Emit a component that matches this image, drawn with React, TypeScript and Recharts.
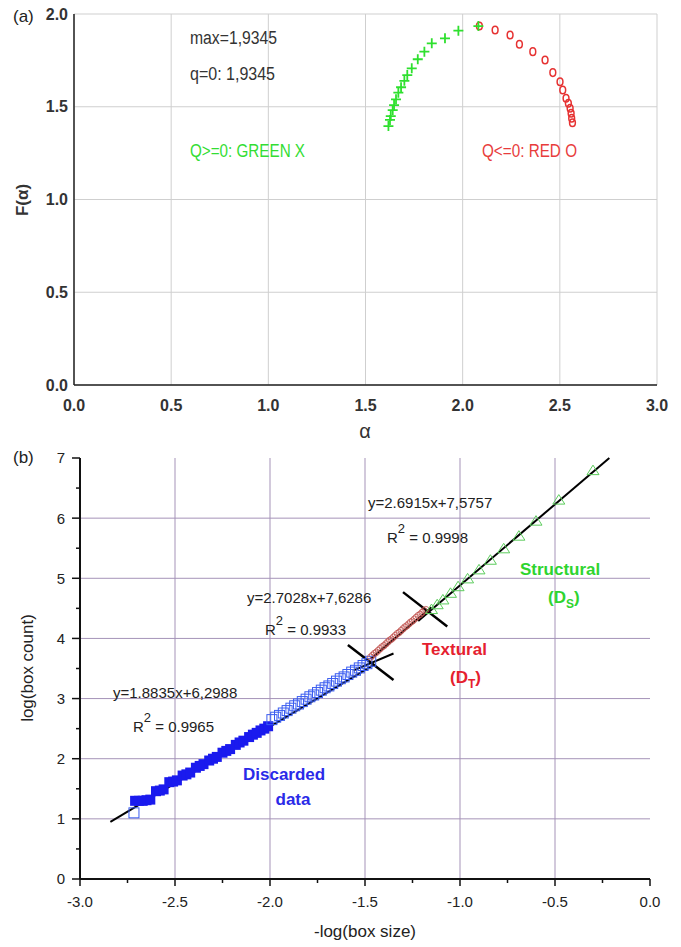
import React from 'react';
import {
  ScatterChart, Scatter, XAxis, YAxis, CartesianGrid, ReferenceLine,
} from 'recharts';

// ---- panel (a): f(alpha) spectrum ----
const greenAlpha = [1.618, 1.626, 1.630, 1.640, 1.647, 1.657, 1.669, 1.683, 1.700, 1.715, 1.738, 1.769, 1.803, 1.841, 1.909, 1.978, 2.081];
const greenF = [1.396, 1.429, 1.450, 1.482, 1.509, 1.540, 1.576, 1.605, 1.640, 1.671, 1.707, 1.756, 1.797, 1.842, 1.869, 1.910, 1.935];
const redAlpha = [2.086, 2.167, 2.244, 2.292, 2.361, 2.424, 2.464, 2.501, 2.515, 2.532, 2.544, 2.553, 2.558, 2.561, 2.565];
const redF = [1.935, 1.914, 1.887, 1.837, 1.797, 1.752, 1.684, 1.635, 1.590, 1.546, 1.519, 1.492, 1.465, 1.438, 1.414];
const alphaTicks = [0, 0.5, 1, 1.5, 2, 2.5, 3];
const fTicks = [0, 0.5, 1, 1.5, 2];

// ---- panel (b): box counting ----
const discardedOpenLoneX = [-2.716];
const discardedOpenLoneY = [1.10];
const discardedFilledX = [-2.71, -2.69, -2.67, -2.65, -2.63, -2.60, -2.58, -2.56, -2.53, -2.51, -2.49, -2.46, -2.44, -2.42, -2.39, -2.37, -2.35, -2.32, -2.30, -2.28, -2.25, -2.23, -2.21, -2.18, -2.16, -2.14, -2.11, -2.09, -2.07, -2.05, -2.03, -2.01];
const discardedFilledY = [1.30, 1.30, 1.30, 1.31, 1.32, 1.46, 1.47, 1.49, 1.61, 1.62, 1.64, 1.72, 1.74, 1.77, 1.85, 1.88, 1.91, 1.97, 2.00, 2.03, 2.10, 2.13, 2.16, 2.23, 2.27, 2.30, 2.36, 2.40, 2.43, 2.47, 2.50, 2.54];
const discardedOpenX = [-1.99, -1.97, -1.95, -1.93, -1.91, -1.89, -1.87, -1.85, -1.83, -1.81, -1.79, -1.77, -1.75, -1.73, -1.71, -1.69, -1.67, -1.65, -1.63, -1.61, -1.59, -1.57, -1.55, -1.53, -1.51, -1.49, -1.47];
const discardedOpenY = [2.65, 2.69, 2.72, 2.76, 2.80, 2.84, 2.88, 2.91, 2.95, 2.99, 3.03, 3.06, 3.10, 3.14, 3.18, 3.21, 3.25, 3.29, 3.33, 3.36, 3.40, 3.44, 3.47, 3.51, 3.55, 3.58, 3.62];
const texturalX = [-1.47, -1.46, -1.45, -1.44, -1.43, -1.42, -1.41, -1.40, -1.39, -1.38, -1.37, -1.36, -1.35, -1.34, -1.33, -1.32, -1.31, -1.30, -1.29, -1.28, -1.27, -1.26, -1.25, -1.24, -1.23, -1.22, -1.21, -1.20, -1.19, -1.18];
const texturalY = [3.69, 3.72, 3.75, 3.77, 3.80, 3.83, 3.86, 3.88, 3.91, 3.94, 3.97, 3.99, 4.02, 4.05, 4.08, 4.10, 4.13, 4.16, 4.19, 4.21, 4.24, 4.27, 4.29, 4.32, 4.35, 4.38, 4.40, 4.43, 4.46, 4.48];
const structuralX = [-0.30, -0.48, -0.60, -0.69, -0.77, -0.84, -0.90, -0.96, -1.01, -1.05, -1.09, -1.12, -1.15];
const structuralY = [6.79, 6.30, 5.95, 5.70, 5.49, 5.30, 5.14, 4.99, 4.86, 4.75, 4.64, 4.56, 4.48];
const boxSizeTicks = [-3, -2.75, -2.5, -2.25, -2, -1.75, -1.5, -1.25, -1, -0.75, -0.5, -0.25, 0];
const boxCountTicks = [0, 0.5, 1, 1.5, 2, 2.5, 3, 3.5, 4, 4.5, 5, 5.5, 6, 6.5, 7];

// fit lines & separators [x1, y1, x2, y2]
const fitDiscarded = [-2.84, 0.95, -1.45, 3.57];
const fitTextural = [-1.47, 3.66, -1.15, 4.52];
const fitStructural = [-1.22, 4.29, -0.214, 7.0];
const crossA = [-1.59, 3.89, -1.35, 3.31];
const crossA2 = [-1.56, 3.47, -1.35, 3.75];
const crossB = [-1.30, 4.77, -1.067, 4.20];

const zip = (xs: number[], ys: number[]) => xs.map((x, i) => ({ x, y: ys[i] }));
const seg = (s: number[]) => [{ x: s[0], y: s[1] }, { x: s[2], y: s[3] }];

const NARROW = "'Liberation Sans Narrow', 'Arial Narrow', 'Liberation Sans', sans-serif";
const SANS = "'Liberation Sans', Arial, sans-serif";

const PlusMark = (p: any) => (
  <path d={`M${p.cx - 5},${p.cy}H${p.cx + 5}M${p.cx},${p.cy - 5}V${p.cy + 5}`} stroke="#2ee02e" strokeWidth={1.8} fill="none" />
);
const RingMark = (p: any) => (
  <ellipse cx={p.cx} cy={p.cy} rx={2.9} ry={3.8} stroke="#e63232" strokeWidth={1.5} fill="none" />
);
const FilledSquare = (p: any) => <rect x={p.cx - 5} y={p.cy - 5} width={10} height={10} fill="#1a1aee" />;
const OpenSquare = (p: any) => (
  <rect x={p.cx - 5} y={p.cy - 5} width={10} height={10} fill="none" stroke="#3a5cf0" strokeWidth={1} />
);
const SmallRing = (p: any) => <circle cx={p.cx} cy={p.cy} r={3.2} fill="none" stroke="#c0504d" strokeWidth={0.8} />;
const OpenTriangle = (p: any) => (
  <path d={`M${p.cx},${p.cy - 5.5}L${p.cx + 6},${p.cy + 4}L${p.cx - 6},${p.cy + 4}Z`} fill="none" stroke="#5ccc5c" strokeWidth={1} />
);

const isMajor = (v: number, step: number) => Math.abs(v / step - Math.round(v / step)) < 1e-6;

const BoxSizeTick = (p: any) => {
  const v = p.payload.value;
  const major = isMajor(v, 0.5);
  return (
    <g>
      <line x1={p.x} x2={p.x} y1={p.y} y2={p.y + (major ? 7 : 4)} stroke="#111" strokeWidth={1.5} />
      {major && (
        <text x={p.x} y={p.y + 28} textAnchor="middle" fontFamily={SANS} fontSize={15} fill="#222">{v.toFixed(1)}</text>
      )}
    </g>
  );
};

const BoxCountTick = (p: any) => {
  const v = p.payload.value;
  const major = isMajor(v, 1);
  return (
    <g>
      <line x1={p.x} x2={p.x - (major ? 8 : 4)} y1={p.y} y2={p.y} stroke="#111" strokeWidth={1.5} />
      {major && (
        <text x={p.x - 15} y={p.y} dy="0.36em" textAnchor="end" fontFamily={SANS} fontSize={15} fill="#222">{v}</text>
      )}
    </g>
  );
};

const aTick = { fontFamily: NARROW, fontSize: 16, fontWeight: 'bold', fill: '#333' };

const R2 = ({ x, y, v }: { x: number; y: number; v: string }) => (
  <text x={x} y={y} fontFamily={SANS} fontSize={15} fill="#222">
    R<tspan dy={-10} fontSize={13}>2</tspan><tspan dy={10}>{` = ${v}`}</tspan>
  </text>
);

export default function App() {
  return (
    <div style={{ position: 'absolute', left: 0, top: 0, width: 681, height: 947, background: '#fff' }}>
      <div style={{ position: 'absolute', left: 0, top: 0 }}>
        <ScatterChart width={681} height={440} margin={{ top: 14, right: 24, bottom: 25, left: 0 }}>
          <CartesianGrid stroke="#cfcfcf" />
          <XAxis type="number" dataKey="x" domain={[0, 3]} ticks={alphaTicks} tickLine={false}
            tickMargin={9} height={30} tick={aTick} tickFormatter={(v: number) => v.toFixed(1)}
            axisLine={{ stroke: '#222', strokeWidth: 1.5 }} />
          <XAxis xAxisId="frame" orientation="top" type="number" domain={[0, 3]} height={0}
            tick={false} tickLine={false} axisLine={{ stroke: '#222', strokeWidth: 2 }} />
          <YAxis type="number" dataKey="y" domain={[0, 2]} ticks={fTicks} tickLine={false}
            tickMargin={0} width={74} tick={aTick} tickFormatter={(v: number) => v.toFixed(1)}
            axisLine={{ stroke: '#222', strokeWidth: 1.5 }} />
          <YAxis yAxisId="frame" orientation="right" type="number" domain={[0, 2]} width={0}
            tick={false} tickLine={false} axisLine={{ stroke: '#222', strokeWidth: 2 }} />
          <Scatter data={zip(redAlpha, redF)} shape={RingMark} isAnimationActive={false} />
          <Scatter data={zip(greenAlpha, greenF)} shape={PlusMark} isAnimationActive={false} />
        </ScatterChart>
      </div>

      <div style={{ position: 'absolute', left: 0, top: 440 }}>
        <ScatterChart width={681} height={507} margin={{ top: 18, right: 31, bottom: 38, left: 0 }}>
          <CartesianGrid stroke="#a593b8" verticalValues={[-2.5, -2, -1.5, -1, -0.5]}
            horizontalValues={[1, 2, 3, 4, 5, 6]} />
          <XAxis type="number" dataKey="x" domain={[-3, 0]} ticks={boxSizeTicks} tickLine={false}
            tickSize={0} tickMargin={0} height={30} tick={<BoxSizeTick />} interval={0}
            axisLine={{ stroke: '#111', strokeWidth: 2 }} />
          <XAxis xAxisId="frame" orientation="top" type="number" domain={[-3, 0]} height={0}
            tick={false} tickLine={false} axisLine={{ stroke: '#333', strokeWidth: 2 }} />
          <YAxis type="number" dataKey="y" domain={[0, 7]} ticks={boxCountTicks} tickLine={false}
            tickSize={0} tickMargin={0} width={80} tick={<BoxCountTick />} interval={0}
            axisLine={{ stroke: '#111', strokeWidth: 2 }} />
          <YAxis yAxisId="frame" orientation="right" type="number" domain={[0, 7]} width={0}
            tick={false} tickLine={false} axisLine={{ stroke: '#333', strokeWidth: 2 }} />
          <Scatter data={zip(discardedFilledX, discardedFilledY)} shape={FilledSquare} isAnimationActive={false} />
          <Scatter data={zip(discardedOpenLoneX, discardedOpenLoneY)} shape={OpenSquare} isAnimationActive={false} />
          <Scatter data={zip(discardedOpenX, discardedOpenY)} shape={OpenSquare} isAnimationActive={false} />
          <Scatter data={zip(texturalX, texturalY)} shape={SmallRing} isAnimationActive={false} />
          <Scatter data={zip(structuralX, structuralY)} shape={OpenTriangle} isAnimationActive={false} />
          <ReferenceLine segment={seg(fitDiscarded)} stroke="#000" strokeWidth={2} />
          <ReferenceLine segment={seg(fitTextural)} stroke="#000" strokeWidth={2} />
          <ReferenceLine segment={seg(fitStructural)} stroke="#000" strokeWidth={2} />
          <ReferenceLine segment={seg(crossA)} stroke="#000" strokeWidth={2.5} />
          <ReferenceLine segment={seg(crossA2)} stroke="#000" strokeWidth={2} />
          <ReferenceLine segment={seg(crossB)} stroke="#000" strokeWidth={2.5} />
        </ScatterChart>
      </div>

      <svg width={681} height={947} style={{ position: 'absolute', left: 0, top: 0, pointerEvents: 'none' }}>
        {/* panel (a) texts */}
        <text x={13} y={22} fontFamily={SANS} fontSize={17} fill="#222">(a)</text>
        <text x={22} y={200} transform="rotate(-90 22 200)" textAnchor="middle" dy="0.35em"
          fontFamily={NARROW} fontSize={17} fontWeight="bold" fill="#333">F(α)</text>
        <text x={365} y={438} textAnchor="middle" fontFamily={SANS} fontSize={20} fill="#333">α</text>
        <text x={190} y={44} fontFamily={NARROW} fontSize={18} fill="#333" textLength={87} lengthAdjust="spacingAndGlyphs">max=1,9345</text>
        <text x={190} y={80} fontFamily={NARROW} fontSize={18} fill="#333" textLength={85} lengthAdjust="spacingAndGlyphs">q=0: 1,9345</text>
        <text x={190} y={157} fontFamily={NARROW} fontSize={18} fill="#33dd33" textLength={115} lengthAdjust="spacingAndGlyphs">Q&gt;=0: GREEN X</text>
        <text x={482} y={157} fontFamily={NARROW} fontSize={18} fill="#e83c3c" textLength={95} lengthAdjust="spacingAndGlyphs">Q&lt;=0: RED O</text>

        {/* panel (b) texts */}
        <text x={13} y={463} fontFamily={SANS} fontSize={17} fill="#222">(b)</text>
        <text x={27} y={668} transform="rotate(-90 27 668)" textAnchor="middle" dy="0.35em"
          fontFamily={SANS} fontSize={17} fill="#222">log(box count)</text>
        <text x={365} y={937} textAnchor="middle" fontFamily={SANS} fontSize={17} fill="#222">-log(box size)</text>
        <text x={368} y={508} fontFamily={SANS} fontSize={15} fill="#222">y=2.6915x+7,5757</text>
        <R2 x={387} y={543} v="0.9998" />
        <text x={247} y={603} fontFamily={SANS} fontSize={15} fill="#222">y=2.7028x+7,6286</text>
        <R2 x={265} y={635} v="0.9933" />
        <text x={113} y={698} fontFamily={SANS} fontSize={15} fill="#222">y=1.8835x+6,2988</text>
        <R2 x={133} y={732} v="0.9965" />
        <text x={520} y={575} fontFamily={SANS} fontSize={17} fontWeight="bold" fill="#2fd42f">Structural</text>
        <text x={548} y={603} fontFamily={SANS} fontSize={17} fontWeight="bold" fill="#2fd42f">
          (D<tspan dy={5} fontSize={12}>S</tspan><tspan dy={-5}>)</tspan>
        </text>
        <text x={422} y={655} fontFamily={SANS} fontSize={17} fontWeight="bold" fill="#e5202e">Textural</text>
        <text x={450} y={683} fontFamily={SANS} fontSize={17} fontWeight="bold" fill="#e5202e">
          (D<tspan dy={5} fontSize={12}>T</tspan><tspan dy={-5}>)</tspan>
        </text>
        <text x={243} y={780} fontFamily={SANS} fontSize={17} fontWeight="bold" fill="#2a2ae8">Discarded</text>
        <text x={293} y={805} textAnchor="middle" fontFamily={SANS} fontSize={17} fontWeight="bold" fill="#2a2ae8">data</text>
      </svg>
    </div>
  );
}
